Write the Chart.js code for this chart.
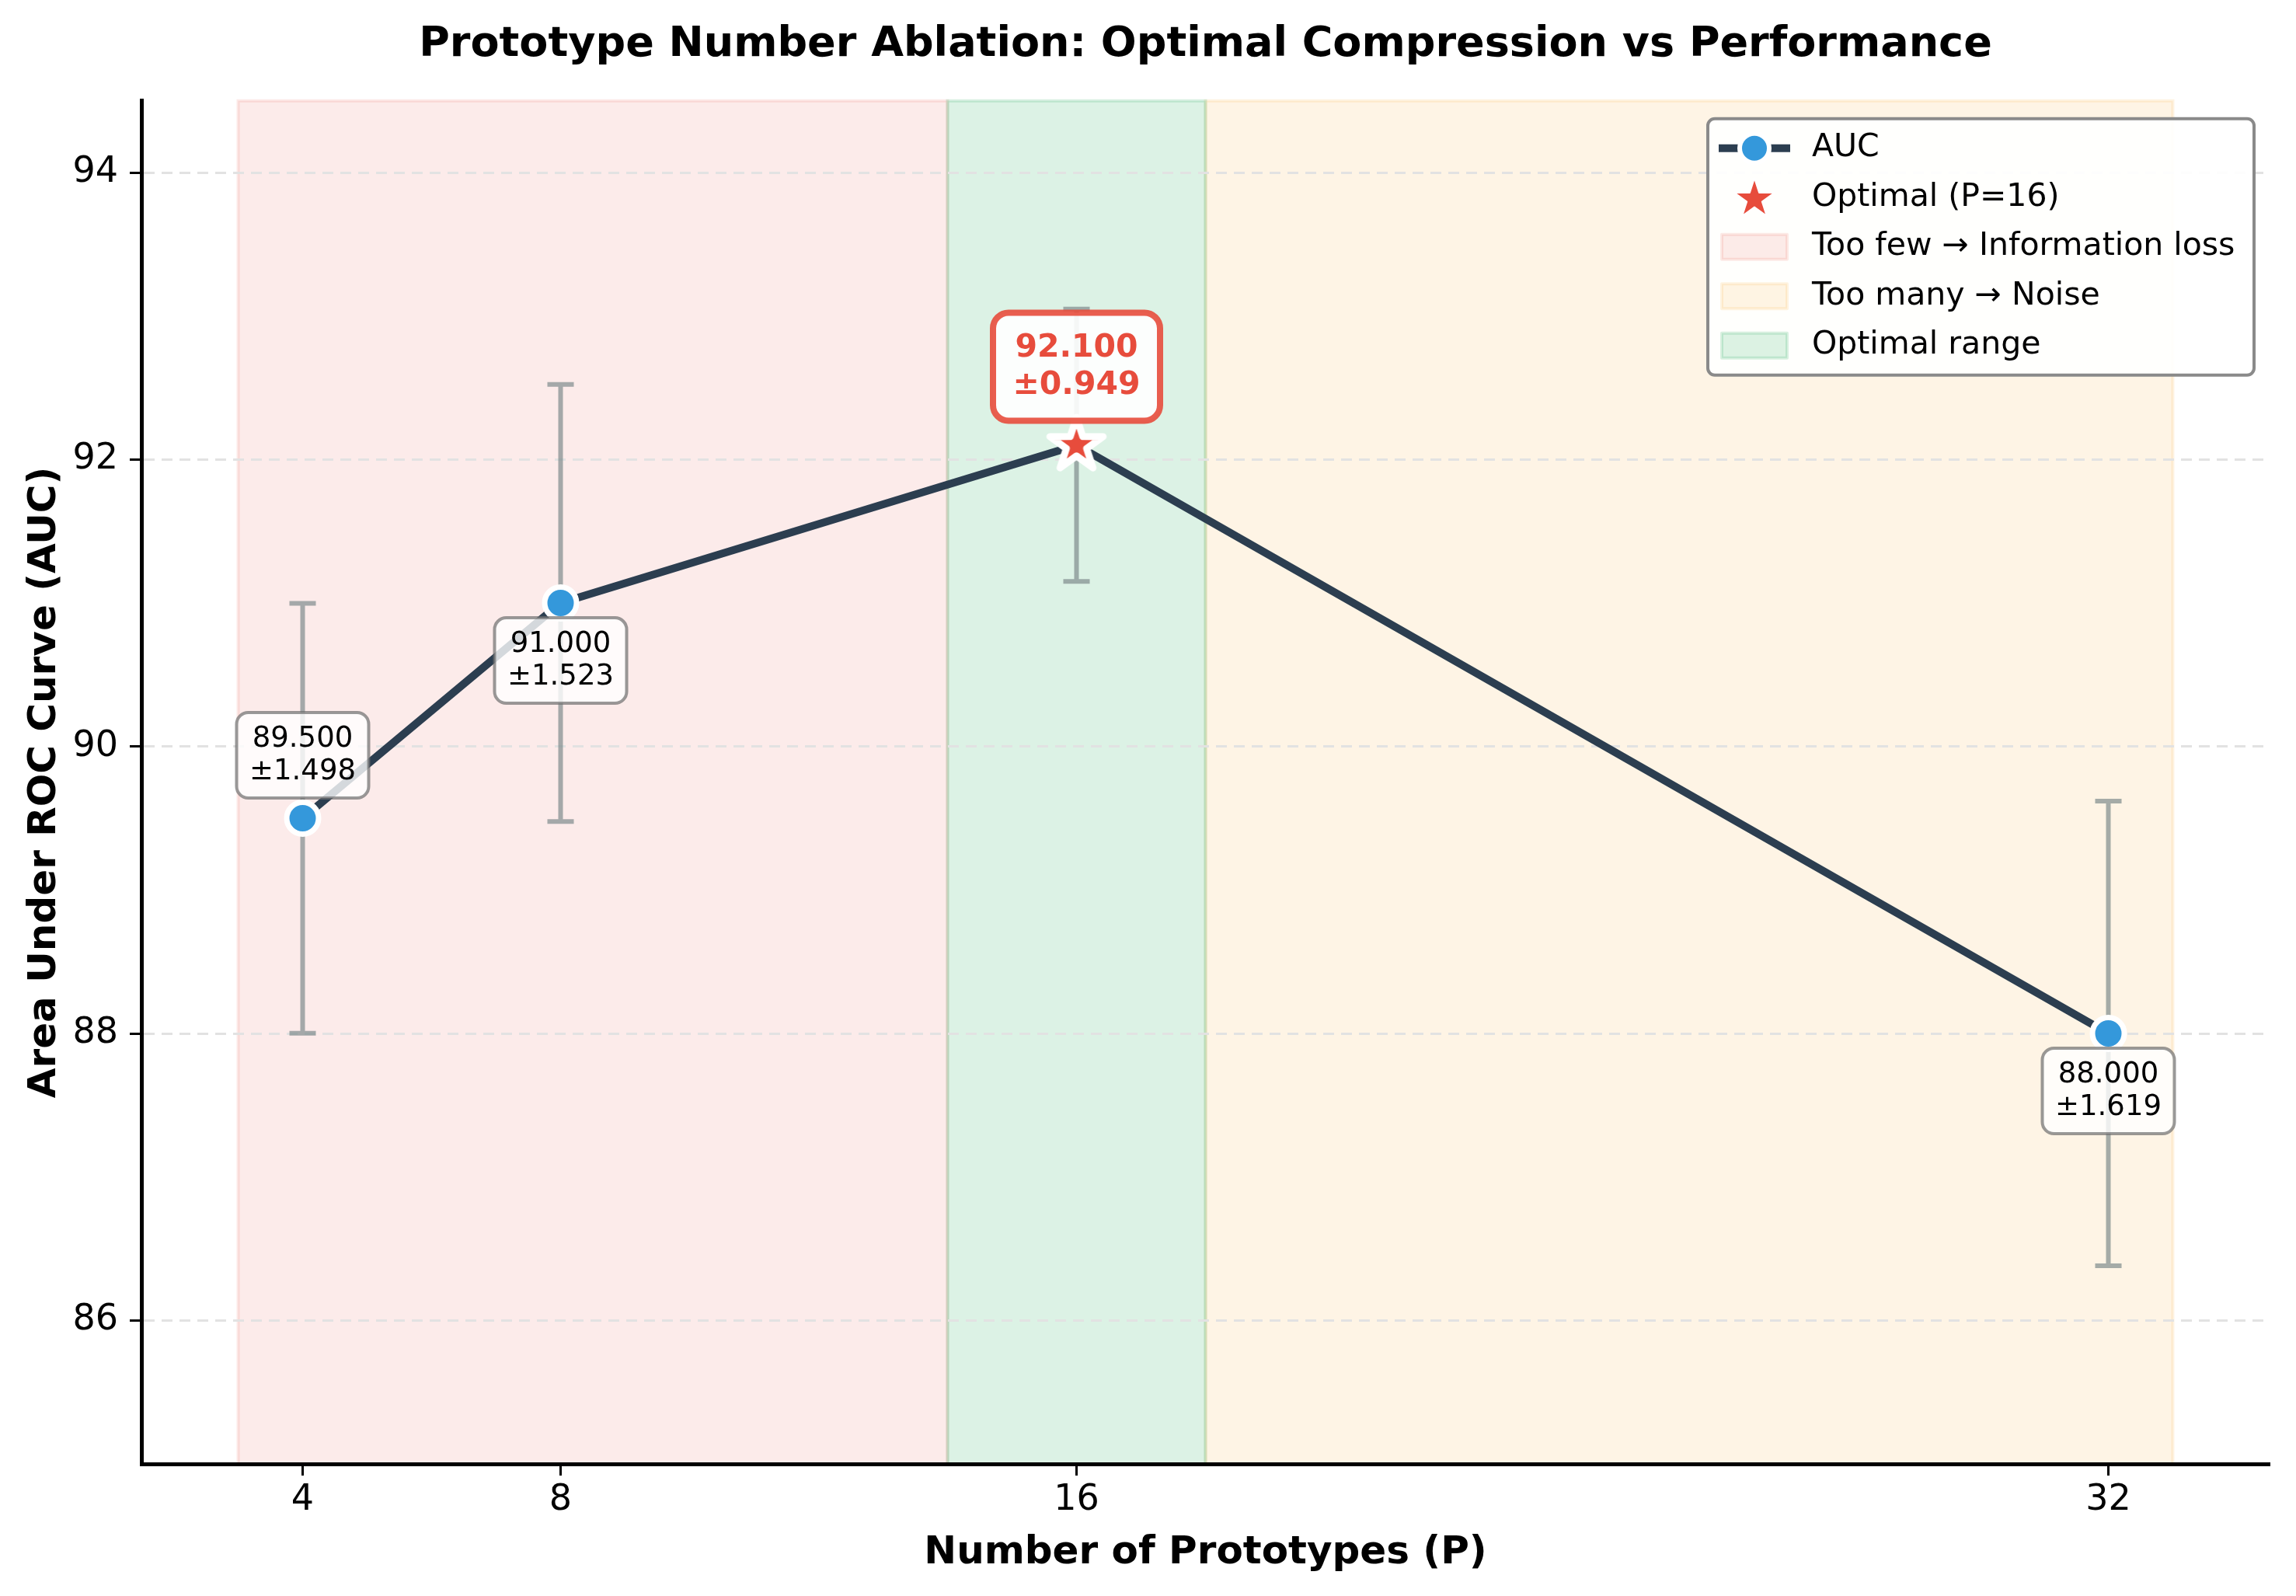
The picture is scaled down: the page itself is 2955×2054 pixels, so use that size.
<!DOCTYPE html>
<html>
<head>
<meta charset="utf-8">
<script src="https://cdn.jsdelivr.net/npm/chart.js@4.4.0/dist/chart.umd.min.js"></script>
<style>
  html, body { margin: 0; padding: 0; background: #fff; }
  #wrap { width: 2955px; height: 2054px; }
</style>
</head>
<body>
<div id="wrap"><canvas id="myChart" width="2955" height="2054"></canvas></div>
<script>
// data
const prototypes = [4, 8, 16, 32];
const aucMean = [89.5, 91.0, 92.1, 88.0];
const aucStd = [1.498, 1.523, 0.949, 1.619];
const optimalP = 16;
const labelSide = ['above', 'below', 'above', 'below'];
const xTicks = [4, 8, 16, 32];
const yTicks = [86, 88, 90, 92, 94];

// shaded ranges (x units)
const regionNames = ['Too few \u2192 Information loss', 'Too many \u2192 Noise', 'Optimal range'];
const regionStart = [3, 18, 14];
const regionEnd = [14, 33, 18];
const regionFill = ['rgba(231,76,60,0.11)', 'rgba(243,156,18,0.11)', 'rgba(39,174,96,0.16)'];
const regionEdge = ['rgba(231,76,60,0.12)', 'rgba(243,156,18,0.12)', 'rgba(39,174,96,0.18)'];

const FONT = 'DejaVu Sans';
const lineColor = '#2c3e50';
const pointColor = '#3498db';
const starColor = '#e74c3c';

function starPath(g, cx, cy, R, r) {
  g.beginPath();
  for (let i = 0; i < 10; i++) {
    const rad = i % 2 === 0 ? R : r;
    const a = -Math.PI / 2 + i * Math.PI / 5;
    const px = cx + rad * Math.cos(a), py = cy + rad * Math.sin(a);
    if (i === 0) g.moveTo(px, py); else g.lineTo(px, py);
  }
  g.closePath();
}

function makeStar(R, lw) {
  const size = Math.ceil(2 * (R + lw) + 4);
  const c = document.createElement('canvas');
  c.width = size; c.height = size;
  const g = c.getContext('2d');
  starPath(g, size / 2, size / 2, R, R * 0.382);
  g.fillStyle = starColor;
  g.fill();
  g.lineJoin = 'round';
  g.lineWidth = lw;
  g.strokeStyle = '#fff';
  g.stroke();
  return c;
}
const starImg = makeStar(36, 9);

// background + shaded ranges under the grid
const bands = {
  id: 'bands',
  beforeDraw(chart) {
    const {ctx, chartArea: a, scales: {x}} = chart;
    ctx.save();
    ctx.fillStyle = '#fff';
    ctx.fillRect(0, 0, chart.width, chart.height);
    for (let i = 0; i < regionStart.length; i++) {
      const x0 = x.getPixelForValue(regionStart[i]);
      const x1 = x.getPixelForValue(regionEnd[i]);
      ctx.fillStyle = regionFill[i];
      ctx.fillRect(x0, a.top, x1 - x0, a.bottom - a.top);
      ctx.strokeStyle = regionEdge[i];
      ctx.lineWidth = 4;
      ctx.strokeRect(x0, a.top, x1 - x0, a.bottom - a.top);
    }
    ctx.restore();
  }
};

const errorBars = {
  id: 'errorBars',
  beforeDatasetsDraw(chart) {
    const {ctx, scales: {x, y}} = chart;
    ctx.save();
    ctx.strokeStyle = 'rgba(127,140,141,0.7)';
    ctx.lineWidth = 6;
    prototypes.forEach((p, i) => {
      const px = x.getPixelForValue(p);
      const top = y.getPixelForValue(aucMean[i] + aucStd[i]);
      const bot = y.getPixelForValue(aucMean[i] - aucStd[i]);
      ctx.beginPath();
      ctx.moveTo(px, top); ctx.lineTo(px, bot);
      ctx.moveTo(px - 17, top); ctx.lineTo(px + 17, top);
      ctx.moveTo(px - 17, bot); ctx.lineTo(px + 17, bot);
      ctx.stroke();
    });
    ctx.restore();
  }
};

const valueLabels = {
  id: 'valueLabels',
  afterDatasetsDraw(chart) {
    const {ctx, scales: {x, y}} = chart;
    ctx.save();
    ctx.textAlign = 'center';
    ctx.textBaseline = 'middle';
    prototypes.forEach((p, i) => {
      const px = x.getPixelForValue(p);
      const py = y.getPixelForValue(aucMean[i]);
      const best = p === optimalP;
      const lines = [aucMean[i].toFixed(3), '\u00b1' + aucStd[i].toFixed(3)];
      const w = best ? 215 : 170;
      const h = best ? 139 : 110;
      const lh = best ? 48 : 42;
      let cy;
      if (labelSide[i] === 'above') cy = py - (best ? 101 : 81);
      else cy = py + 74;
      ctx.beginPath();
      ctx.roundRect(px - w / 2, cy - h / 2, w, h, best ? 20 : 15);
      ctx.fillStyle = best ? 'rgba(255,255,255,0.9)' : 'rgba(255,255,255,0.8)';
      ctx.fill();
      ctx.lineWidth = best ? 8 : 4;
      ctx.strokeStyle = best ? 'rgba(231,76,60,0.9)' : 'rgba(110,110,110,0.7)';
      ctx.stroke();
      ctx.fillStyle = best ? starColor : '#000';
      ctx.font = best ? 'bold 41px "' + FONT + '"' : '37px "' + FONT + '"';
      ctx.fillText(lines[0], px, cy - lh / 2);
      ctx.fillText(lines[1], px, cy + lh / 2);
    });
    ctx.restore();
  }
};

const legendBox = {
  id: 'legendBox',
  afterDraw(chart) {
    const {ctx, chartArea: a} = chart;
    const w = 703, h = 330;
    const left = a.right - 20 - w;
    const top = a.top + 23;
    ctx.save();
    ctx.beginPath();
    ctx.roundRect(left, top, w, h, 9);
    ctx.fillStyle = 'rgba(255,255,255,0.92)';
    ctx.fill();
    ctx.lineWidth = 4;
    ctx.strokeStyle = '#8a8a8a';
    ctx.stroke();

    const hl = left + 14, hr = left + 106, hc = (hl + hr) / 2;
    const tx = left + 134;
    const rowY = i => top + 38 + 63.5 * i;
    const labels = ['AUC', 'Optimal (P=' + optimalP + ')'].concat(regionNames);

    // AUC handle
    ctx.strokeStyle = lineColor;
    ctx.lineWidth = 10;
    ctx.beginPath();
    ctx.moveTo(hl, rowY(0)); ctx.lineTo(hr, rowY(0));
    ctx.stroke();
    ctx.beginPath();
    ctx.arc(hc, rowY(0), 19, 0, Math.PI * 2);
    ctx.fillStyle = pointColor;
    ctx.fill();
    ctx.lineWidth = 6;
    ctx.strokeStyle = '#fff';
    ctx.stroke();

    // star handle
    starPath(ctx, hc, rowY(1) + 2, 27, 27 * 0.382);
    ctx.fillStyle = starColor;
    ctx.fill();
    ctx.lineJoin = 'round';
    ctx.lineWidth = 2;
    ctx.strokeStyle = '#fff';
    ctx.stroke();

    // patches
    for (let i = 0; i < regionNames.length; i++) {
      const yy = rowY(i + 2);
      ctx.fillStyle = regionFill[i];
      ctx.fillRect(hl + 4, yy - 16, hr - hl - 8, 32);
      ctx.strokeStyle = regionEdge[i];
      ctx.lineWidth = 4;
      ctx.strokeRect(hl + 4, yy - 16, hr - hl - 8, 32);
    }

    ctx.fillStyle = '#000';
    ctx.font = '41px "' + FONT + '"';
    ctx.textAlign = 'left';
    ctx.textBaseline = 'middle';
    labels.forEach((t, i) => ctx.fillText(t, tx, rowY(i)));
    ctx.restore();
  }
};

const aucPoints = prototypes.map((p, i) => ({x: p, y: aucMean[i]}));
const bestIdx = prototypes.indexOf(optimalP);

const config = {
  type: 'line',
  data: {
    datasets: [
      {
        label: 'Optimal (P=' + optimalP + ')',
        data: [{x: optimalP, y: aucMean[bestIdx]}],
        showLine: false,
        pointStyle: starImg,
        pointRadius: 20,
        order: 0
      },
      {
        label: 'AUC',
        data: aucPoints,
        borderColor: lineColor,
        borderWidth: 10,
        tension: 0,
        fill: false,
        pointRadius: ctx => (prototypes[ctx.dataIndex] === optimalP ? 0 : 20.5),
        pointBackgroundColor: pointColor,
        pointBorderColor: '#fff',
        pointBorderWidth: 7,
        order: 1
      }
    ]
  },
  options: {
    responsive: false,
    devicePixelRatio: 1,
    animation: false,
    events: [],
    layout: {padding: {left: 0, right: 34, top: 0, bottom: 0}},
    plugins: {
      legend: {display: false},
      tooltip: {enabled: false},
      title: {
        display: true,
        fullSize: false,
        text: 'Prototype Number Ablation: Optimal Compression vs Performance',
        color: '#000',
        font: {family: FONT, size: 54, weight: 'bold', lineHeight: 1.2},
        padding: {top: 26, bottom: 39}
      }
    },
    scales: {
      x: {
        type: 'linear',
        min: 1.5,
        max: 34.5,
        afterBuildTicks: s => { s.ticks = xTicks.map(v => ({value: v})); },
        afterFit: s => { s.height = 170; },
        ticks: {color: '#000', font: {family: FONT, size: 46}, padding: 4, callback: v => String(v)},
        grid: {display: true, drawOnChartArea: false, drawTicks: true, tickLength: 15, tickWidth: 3, tickColor: '#000'},
        border: {display: true, color: '#000', width: 5},
        title: {
          display: true,
          text: 'Number of Prototypes (P)',
          color: '#000',
          font: {family: FONT, size: 50, weight: 'bold', lineHeight: 1.2},
          padding: {top: 0, bottom: 25}
        }
      },
      y: {
        min: 85,
        max: 94.5,
        afterBuildTicks: s => { s.ticks = yTicks.map(v => ({value: v})); },
        afterFit: s => { s.width = 182; },
        ticks: {color: '#000', font: {family: FONT, size: 46}, padding: 15},
        grid: {color: '#e2e2e2', lineWidth: 3, drawTicks: true, tickLength: 15, tickWidth: 3, tickColor: '#000'},
        border: {display: true, color: '#000', width: 5, dash: [14, 9]},
        title: {
          display: true,
          text: 'Area Under ROC Curve (AUC)',
          color: '#000',
          font: {family: FONT, size: 50, weight: 'bold', lineHeight: 1.2},
          padding: {top: 28, bottom: 0}
        }
      }
    }
  },
  plugins: [bands, errorBars, valueLabels, legendBox]
};

const myChart = new Chart(document.getElementById('myChart').getContext('2d'), config);
</script>
</body>
</html>
